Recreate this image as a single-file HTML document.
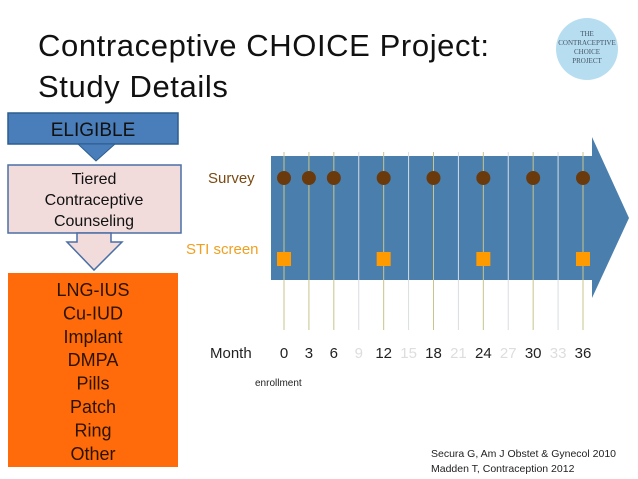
<!DOCTYPE html>
<html><head><meta charset="utf-8"><style>
body{margin:0;width:638px;height:479px;background:#fff;position:relative;overflow:hidden;font-family:"Liberation Sans",sans-serif}
.t{position:absolute;white-space:nowrap}
</style></head><body>
<div class="t" style="left:38px;top:25px;font-size:31px;line-height:41px;color:#111;letter-spacing:0.6px">Contraceptive CHOICE Project:<br>Study Details</div>
<div style="position:absolute;left:556px;top:18px;width:62px;height:62px;border-radius:50%;background:#b7def0;text-align:center;font-family:'Liberation Serif',serif;font-size:7px;color:#456;line-height:9px;padding-top:12px;box-sizing:border-box">THE<br>CONTRACEPTIVE<br>CHOICE<br>PROJECT</div>
<svg width="638" height="479" style="position:absolute;left:0;top:0">
<rect x="8" y="113" width="170" height="31" fill="#4a7ebb" stroke="#2c5d8f" stroke-width="1.5"/>
<text x="93" y="136" text-anchor="middle" font-size="19" fill="#111" font-family="Liberation Sans">ELIGIBLE</text>
<polygon points="78,144 115,144 96,161" fill="#4a7ebb" stroke="#2c5d8f"/>
<rect x="8" y="165" width="173" height="68" fill="#f2dcdb" stroke="#4a6fa5" stroke-width="1.5"/>
<text font-size="16" fill="#111" text-anchor="middle" font-family="Liberation Sans"><tspan x="94" y="184">Tiered</tspan><tspan x="94" y="205">Contraceptive</tspan><tspan x="94" y="226">Counseling</tspan></text>
<polygon points="77,233 111,233 111,242 122,242 94,270 67,242 77,242" fill="#f2dcdb" stroke="#4a6fa5" stroke-width="1.5"/>
<rect x="8" y="273" width="170" height="194" fill="#ff6a0a"/>
<g id="methods" font-size="18" fill="#2a1400" text-anchor="middle" font-family="Liberation Sans"></g>
<polygon points="271,156 592,156 592,137 629,218 592,298 592,280 271,280" fill="#4a7fad"/>
<g id="tl"></g>
<text x="210" y="358" font-size="15" fill="#222" font-family="Liberation Sans">Month</text>
<text x="255" y="386" font-size="10" fill="#222" font-family="Liberation Sans">enrollment</text>
<text x="208" y="183" font-size="15" fill="#7b4a12" font-family="Liberation Sans">Survey</text>
<text x="186" y="254" font-size="15" fill="#f0a020" font-family="Liberation Sans">STI screen</text>
</svg>
<div class="t" style="left:431px;top:447px;font-size:10.5px;line-height:15px;color:#222">Secura G, Am J Obstet &amp; Gynecol 2010<br>Madden T, Contraception 2012</div>
<script>
const methods=["LNG-IUS","Cu-IUD","Implant","DMPA","Pills","Patch","Ring","Other"];
const months=[0,3,6,9,12,15,18,21,24,27,30,33,36];
const surveyMonths=[0,3,6,12,18,24,30,36];
const stiMonths=[0,12,24,36];
const ns="http://www.w3.org/2000/svg";
const x=m=>284+m*(299/36);
const mg=document.getElementById('methods');
methods.forEach((m,i)=>{const t=document.createElementNS(ns,'text');


t.setAttribute('x',93);t.setAttribute('y',296+i*23.4);t.textContent=m;mg.appendChild(t);});
const g=document.getElementById('tl');
months.forEach(m=>{const major=surveyMonths.includes(m);
const l=document.createElementNS(ns,'line');


l.setAttribute('x1',x(m));l.setAttribute('x2',x(m));l.setAttribute('y1',152);l.setAttribute('y2',330);
l.setAttribute('stroke',major?'#c8c48a':'#d8dde0');l.setAttribute('stroke-width',1);g.appendChild(l);
const t=document.createElementNS(ns,'text');


t.setAttribute('x',x(m));t.setAttribute('y',358);t.setAttribute('text-anchor','middle');t.setAttribute('font-size',15);
t.setAttribute('font-family','Liberation Sans');t.setAttribute('fill',major?'#222':'#ddd');t.textContent=m;g.appendChild(t);});
surveyMonths.forEach(m=>{const c=document.createElementNS(ns,'circle');


c.setAttribute('cx',x(m));c.setAttribute('cy',178);c.setAttribute('r',7);c.setAttribute('fill','#6b3a0c');g.appendChild(c);});
stiMonths.forEach(m=>{const r=document.createElementNS(ns,'rect');


r.setAttribute('x',x(m)-7);r.setAttribute('y',252);r.setAttribute('width',14);r.setAttribute('height',14);r.setAttribute('fill','#ff9a00');g.appendChild(r);});
</script>
</body></html>
